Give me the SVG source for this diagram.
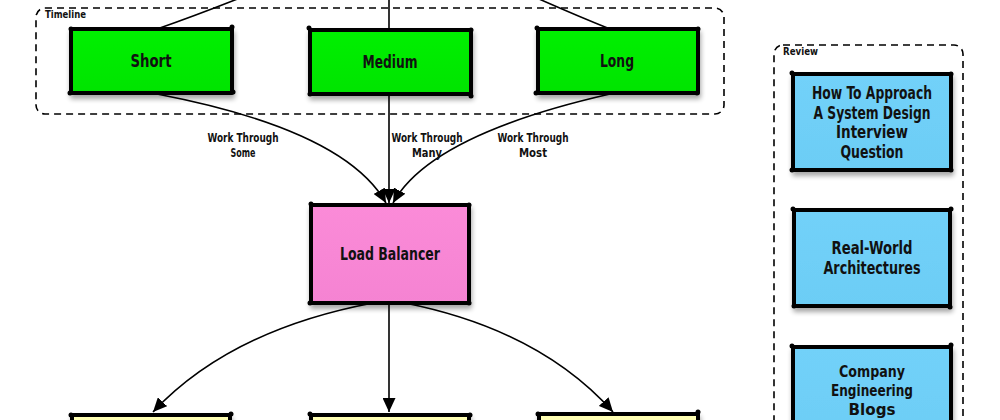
<svg xmlns="http://www.w3.org/2000/svg" width="1000" height="420" viewBox="0 0 1000 420">
<style>
.node rect.box{stroke:#000;stroke-width:4;stroke-linejoin:round}
.node circle{fill:#000}
.lbl{font-family:"Liberation Sans Narrow","DejaVu Sans Condensed",sans-serif;font-weight:bold;font-size:17px;fill:#111;text-anchor:middle}
.lbl.sm{font-size:16px}
.elbl{font-family:"Liberation Sans Narrow","DejaVu Sans Condensed",sans-serif;font-weight:bold;font-size:12px;fill:#111;text-anchor:middle}
.glbl{font-family:"Liberation Sans Narrow","DejaVu Sans Condensed",sans-serif;font-weight:bold;font-size:11px;fill:#111}
.grp{fill:none;stroke:#000;stroke-width:1.6;stroke-dasharray:7,5}
.conn path{fill:none;stroke:#000;stroke-width:1.6}
</style>
<defs>
<marker id="arr" markerUnits="userSpaceOnUse" markerWidth="15" markerHeight="13" refX="14" refY="6.5" orient="auto">
<path d="M0,0 L14,6.5 L0,13 z" fill="#000"/>
</marker>
<filter id="sh" x="-10%" y="-10%" width="125%" height="130%">
<feGaussianBlur in="SourceAlpha" stdDeviation="2.5"/>
<feOffset dx="1" dy="4" result="b"/>
<feComponentTransfer><feFuncA type="linear" slope="0.35"/></feComponentTransfer>
<feMerge><feMergeNode/><feMergeNode in="SourceGraphic"/></feMerge>
</filter>
<linearGradient id="gGreen" x1="0" y1="0" x2="0" y2="1"><stop offset="0" stop-color="#00f000"/><stop offset="1" stop-color="#00e400"/></linearGradient>
<linearGradient id="gPink" x1="0" y1="0" x2="0" y2="1"><stop offset="0" stop-color="#fb8bd8"/><stop offset="1" stop-color="#f583d2"/></linearGradient>
<linearGradient id="gBlue" x1="0" y1="0" x2="0" y2="1"><stop offset="0" stop-color="#72d1f9"/><stop offset="1" stop-color="#6ccdf5"/></linearGradient>
<linearGradient id="gYellow" x1="0" y1="0" x2="0" y2="1"><stop offset="0" stop-color="#ffffb4"/><stop offset="1" stop-color="#fdfda8"/></linearGradient>
</defs>
<rect width="1000" height="420" fill="#fff"/>

<g id="group-timeline">
<rect class="grp" x="36" y="8" width="688" height="106" rx="9"/>
<text class="glbl" x="45" y="18" textLength="41" lengthAdjust="spacingAndGlyphs">Timeline</text>
</g>
<g id="group-review">
<rect class="grp" x="774" y="45" width="189" height="400" rx="9"/>
<text class="glbl" x="783" y="55" textLength="35" lengthAdjust="spacingAndGlyphs">Review</text>
</g>

<g id="connectors" class="conn">
<path d="M157,29 Q200,14 250,-6"/>
<path d="M389,29 L389,-2"/>
<path d="M610,29 Q575,15 530,-5"/>
<path d="M157,94 Q345,130 386,203" marker-end="url(#arr)"/>
<path d="M389,94 L389,203" marker-end="url(#arr)"/>
<path d="M610,94 Q430,135 393,203" marker-end="url(#arr)"/>
<path d="M373,303 Q230,330 153,412" marker-end="url(#arr)"/>
<path d="M389,303 L389,412" marker-end="url(#arr)"/>
<path d="M405,303 Q540,330 613,412" marker-end="url(#arr)"/>
<text class="elbl" x="243" y="142" textLength="71" lengthAdjust="spacingAndGlyphs">Work Through</text>
<text class="elbl" x="243" y="157" textLength="25" lengthAdjust="spacingAndGlyphs">Some</text>
<text class="elbl" x="427" y="142" textLength="71" lengthAdjust="spacingAndGlyphs">Work Through</text>
<text class="elbl" x="427" y="157" textLength="30" lengthAdjust="spacingAndGlyphs">Many</text>
<text class="elbl" x="533" y="142" textLength="71" lengthAdjust="spacingAndGlyphs">Work Through</text>
<text class="elbl" x="533" y="157" textLength="28" lengthAdjust="spacingAndGlyphs">Most</text>
</g>

<g id="node-short" class="node">
<rect class="box" x="71" y="29" width="161" height="64" fill="url(#gGreen)" filter="url(#sh)"/>
<circle cx="71" cy="29" r="2.5"/><circle cx="232" cy="27" r="2.5"/><circle cx="70" cy="93" r="2.5"/><circle cx="233" cy="92" r="2.5"/>
<text class="lbl" x="151" y="67" textLength="41" lengthAdjust="spacingAndGlyphs">Short</text>
</g>
<g id="node-medium" class="node">
<rect class="box" x="310" y="30" width="161" height="64" fill="url(#gGreen)" filter="url(#sh)"/>
<circle cx="309" cy="28" r="2.5"/><circle cx="471" cy="30" r="2.5"/><circle cx="310" cy="94" r="2.5"/><circle cx="471" cy="96" r="2.5"/>
<text class="lbl" x="390" y="68" textLength="55" lengthAdjust="spacingAndGlyphs">Medium</text>
</g>
<g id="node-long" class="node">
<rect class="box" x="538" y="29" width="160" height="64" fill="url(#gGreen)" filter="url(#sh)"/>
<circle cx="537" cy="28" r="2.5"/><circle cx="698" cy="29" r="2.5"/><circle cx="536" cy="93" r="2.5"/><circle cx="697" cy="93" r="2.5"/>
<text class="lbl" x="617" y="67" textLength="34" lengthAdjust="spacingAndGlyphs">Long</text>
</g>
<g id="node-lb" class="node">
<rect class="box" x="311" y="205" width="158" height="98" fill="url(#gPink)" filter="url(#sh)"/>
<circle cx="311" cy="204" r="2.5"/><circle cx="469" cy="205" r="2.5"/><circle cx="310" cy="303" r="2.5"/><circle cx="469" cy="303" r="2.5"/>
<text class="lbl" x="390" y="260" textLength="100" lengthAdjust="spacingAndGlyphs">Load Balancer</text>
</g>
<g id="node-b1" class="node">
<rect class="box" x="72" y="415" width="158" height="64" fill="url(#gYellow)" filter="url(#sh)"/>
<circle cx="71" cy="415" r="2.5"/><circle cx="231" cy="414" r="2.5"/>
</g>
<g id="node-b2" class="node">
<rect class="box" x="311" y="415" width="158" height="64" fill="url(#gYellow)" filter="url(#sh)"/>
<circle cx="310" cy="414" r="2.5"/><circle cx="470" cy="415" r="2.5"/>
</g>
<g id="node-b3" class="node">
<rect class="box" x="539" y="414" width="159" height="64" fill="url(#gYellow)" filter="url(#sh)"/>
<circle cx="538" cy="414" r="2.5"/><circle cx="698" cy="412" r="2.5"/>
</g>

<g id="node-approach" class="node">
<rect class="box" x="793" y="74" width="158" height="96" fill="url(#gBlue)" filter="url(#sh)"/>
<circle cx="792" cy="73" r="2.5"/><circle cx="951" cy="74" r="2.5"/><circle cx="792" cy="170" r="2.5"/><circle cx="951" cy="170" r="2.5"/>
<text class="lbl" x="872" y="99" textLength="120" lengthAdjust="spacingAndGlyphs">How To Approach</text>
<text class="lbl" x="872" y="119" textLength="117" lengthAdjust="spacingAndGlyphs">A System Design</text>
<text class="lbl" x="872" y="138" textLength="72" lengthAdjust="spacingAndGlyphs">Interview</text>
<text class="lbl" x="872" y="158" textLength="63" lengthAdjust="spacingAndGlyphs">Question</text>
</g>
<g id="node-realworld" class="node">
<rect class="box" x="794" y="210" width="156" height="96" fill="url(#gBlue)" filter="url(#sh)"/>
<circle cx="793" cy="209" r="2.5"/><circle cx="951" cy="209" r="2.5"/><circle cx="794" cy="306" r="2.5"/><circle cx="950" cy="307" r="2.5"/>
<text class="lbl" x="872" y="254" textLength="81" lengthAdjust="spacingAndGlyphs">Real-World</text>
<text class="lbl" x="872" y="274" textLength="97" lengthAdjust="spacingAndGlyphs">Architectures</text>
</g>
<g id="node-company" class="node">
<rect class="box" x="793" y="347" width="158" height="96" fill="url(#gBlue)" filter="url(#sh)"/>
<circle cx="792" cy="346" r="2.5"/><circle cx="951" cy="345" r="2.5"/>
<text class="lbl sm" x="872" y="377" textLength="66" lengthAdjust="spacingAndGlyphs">Company</text>
<text class="lbl sm" x="872" y="396" textLength="82" lengthAdjust="spacingAndGlyphs">Engineering</text>
<text class="lbl sm" x="872" y="415" textLength="47" lengthAdjust="spacingAndGlyphs">Blogs</text>
</g>
</svg>
